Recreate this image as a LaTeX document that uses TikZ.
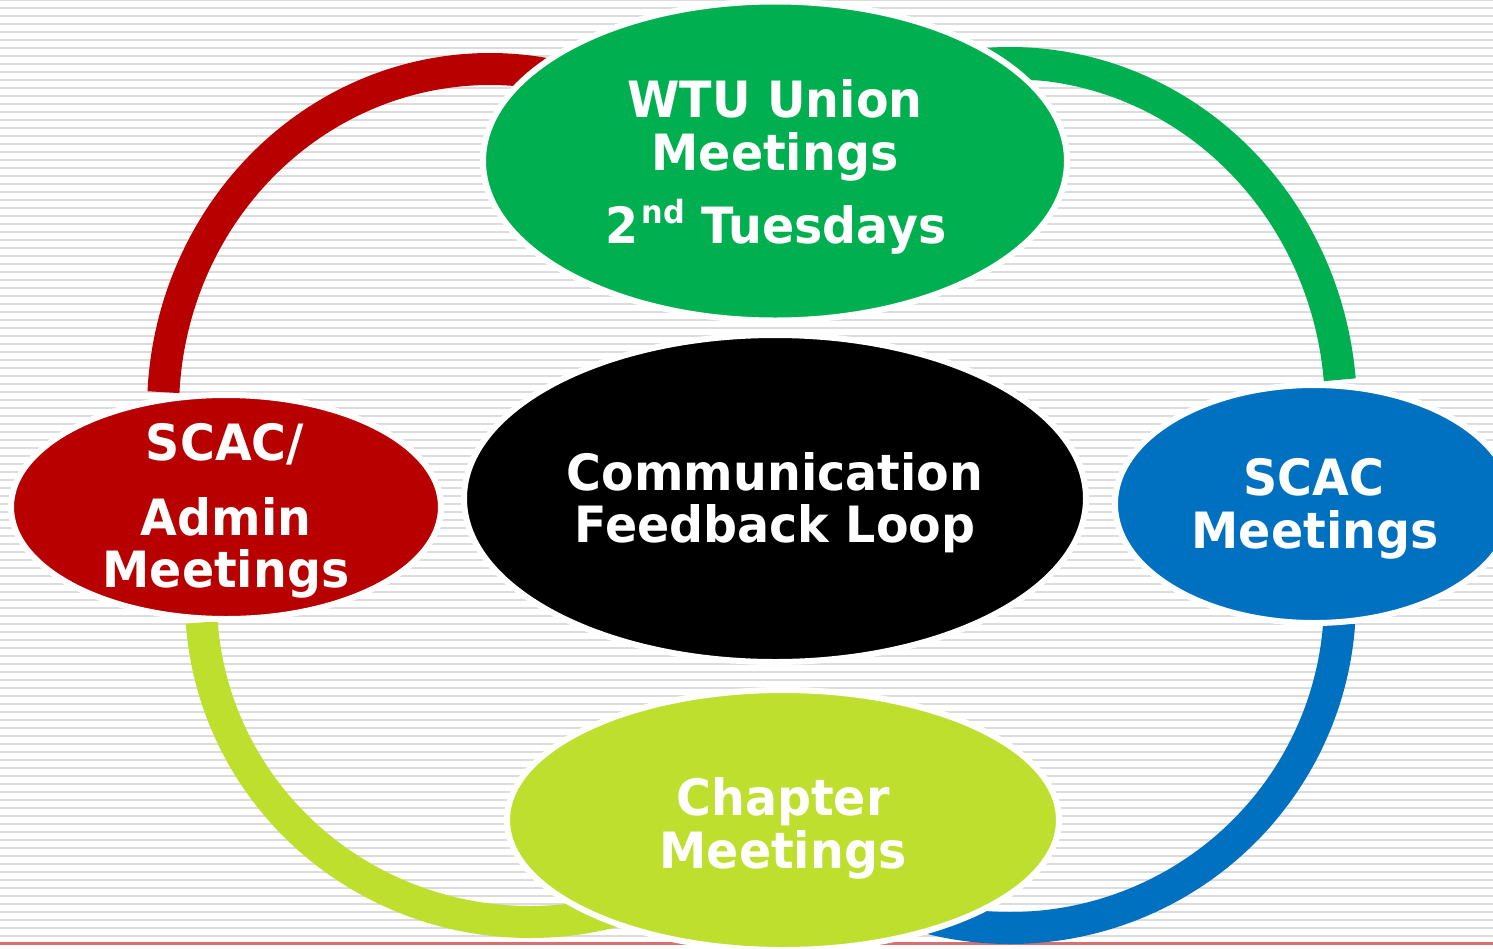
\documentclass[tikz,border=0pt]{standalone}
\usepackage{fontspec}
\setmainfont{DejaVu Sans}[FakeStretch=0.95]
\usetikzlibrary{shapes.geometric}

\definecolor{stripe}{RGB}{220,220,220}
\definecolor{rule}{RGB}{216,112,112}
\definecolor{cRed}{RGB}{185,0,0}
\definecolor{cGreen}{RGB}{0,176,80}
\definecolor{cBlue}{RGB}{0,112,192}
\definecolor{cLime}{RGB}{191,223,47}

\tikzset{
  loop arc/.style={line width=32pt, line cap=butt},
  bubble/.style={ellipse, draw=white, line width=6pt, inner sep=0pt, outer sep=0pt},
  caption/.style={anchor=base, inner sep=0pt, text=white,
    font=\bfseries\fontsize{50}{52}\selectfont},
}

\begin{document}
\begin{tikzpicture}[x=1pt, y=-1pt]
  \useasboundingbox (0,0) rectangle (1493,948);

  % ruled background
  \fill[white] (0,0) rectangle (1493,948);
  \foreach \k in {0,...,117}
    \fill[stripe] (0,8*\k-1) rectangle (1493,8*\k+1);
  \fill[rule] (0,941.5) rectangle (1493,944.5);

  % centres of the four loop arcs
  \coordinate (cTL) at (490,410);
  \coordinate (cTR) at (1010,410);
  \coordinate (cBR) at (1010,600);
  \coordinate (cBL) at (530,600);

  % loop arcs
  \draw[loop arc, cRed]   (cTL) ++(183:327 and 341)
    arc[start angle=183, end angle=290, x radius=327, y radius=341];
  \draw[loop arc, cGreen] (cTR) ++(250:331 and 347)
    arc[start angle=250, end angle=355, x radius=331, y radius=347];
  \draw[loop arc, cBlue]  (cBR) ++(4:330 and 328)
    arc[start angle=4, end angle=110, x radius=330, y radius=328];
  \draw[loop arc, cLime]  (cBL) ++(176:329 and 322)
    arc[start angle=176, end angle=70, x radius=329, y radius=322];

  % meeting bubbles
  \node[bubble, fill=cGreen, minimum width=584pt, minimum height=319pt] (wtu) at (775,161) {};
  \node[bubble, fill=black,  minimum width=622pt, minimum height=327pt] (loop) at (775,498.5) {};
  \node[bubble, fill=cRed,   minimum width=430pt, minimum height=224pt] (admin) at (226,507) {};
  \node[bubble, fill=cBlue,  minimum width=398pt, minimum height=238pt] (scac) at (1314,504) {};
  \node[bubble, fill=cLime,  minimum width=552pt, minimum height=260pt] (chapter) at (783,820) {};

  % captions
  \node[caption] (wtuA) at (775,117) {WTU Union};
  \node[caption] (wtuB) at (775,170) {Meetings};
  \node[caption] (wtuC) at (776,243) {2\kern3pt\raisebox{20pt}{\fontsize{32}{32}\selectfont nd} Tuesdays};

  \node[caption] (loopA) at (775,490) {Communication};
  \node[caption] (loopB) at (775,542) {Feedback Loop};

  \node[caption] (adminA) at (225,460) {SCAC/};
  \node[caption] (adminB) at (226,535) {Admin};
  \node[caption] (adminC) at (226,587) {Meetings};

  \node[caption] (scacA) at (1314,495) {SCAC};
  \node[caption] (scacB) at (1315,548) {Meetings};

  \node[caption] (chapterA) at (783,815) {Chapter};
  \node[caption] (chapterB) at (783,868) {Meetings};
\end{tikzpicture}
\end{document}
